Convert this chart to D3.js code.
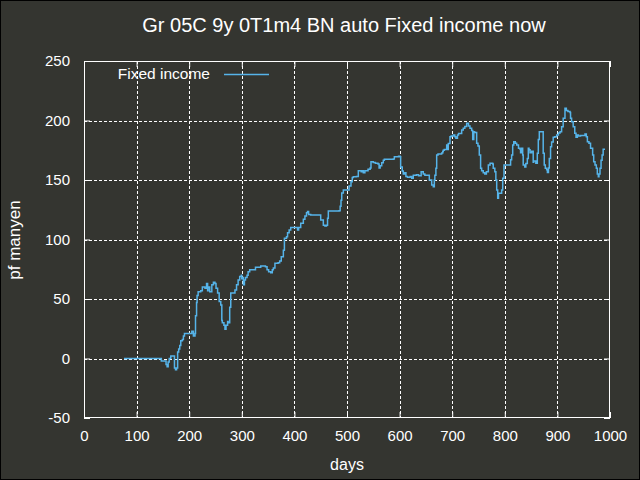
<!DOCTYPE html>
<html>
<head>
<meta charset="utf-8">
<script src="https://cdn.jsdelivr.net/npm/d3@7"></script>
<style>
html,body{margin:0;padding:0;background:#343530;}
svg{display:block;}
text{font-family:"Liberation Sans",Arial,sans-serif;fill:#ffffff;}
</style>
</head>
<body>
<svg id="chart" width="640" height="480"></svg>
<script>
const titleText = "Gr 05C 9y 0T1m4 BN auto Fixed income now";
const xLabel = "days";
const yLabel = "pf manyen";
const seriesName = "Fixed income";
const xTicks = [0,100,200,300,400,500,600,700,800,900,1000];
const yTicks = [-50,0,50,100,150,200,250];

const days = [76,146,147,155,156,158,160,162,165,170,172,174,176,178,180,182,184,187,189,191,203,205,208,211,212,214,215,217,222,225,230,233,235,236,239,243,246,249,251,254,257,260,262,263,266,268,270,273,274,277,279,284,287,290,293,296,299,300,302,303,305,307,310,312,315,325,326,334,336,345,348,351,355,358,360,363,369,372,375,379,381,385,387,390,393,404,406,408,412,417,420,423,425,427,431,448,450,455,458,461,463,464.5,485,487,488.6,490,493,501,504,507.6,510,512,518,521.5,527,529,531,534,540,544,545.6,550,554,559,561,563,566,569,571,588,590,598,601,602,605,607,610,612,615,620,623,626,632,636,641,645,648,655,656.5,661,664,666,667,669,670.5,673,680,682,683,685,689.5,691,692.5,695.8,698,702,705,707,710,712,718,721,724,727.5,731,733.8,737,739,741,742.6,746.5,749,751.5,754,756,759,762,765,768.7,772,777,778,781,783,784.6,786.5,788,791,794,796,798.5,808.6,811,813,815,817,820,822.6,826,829,830,832,834,835,838,840,842.8,844.7,846,848,851,854,855,859,861.8,863.7,865.6,872,873,875,877,879.6,881,883,884.6,887,889,892,895,898.6,902,905,908,911,914.4,917,920,924,925,927,930,933,935.4,938,940,944,948,952.5,955,957,960,963,967,969,971.5,974,975.9,977.8,979,981,983,985,987,990.5];
const values = [0,0,-2,-2,-5,-7,-3,0,2,2,-8,-9.5,-8,5.5,8,11,15,16,19,21,21,23,19,21,36,47,53,56,57,60,59,63,57,60,56,62,64,63,59,55,48,45,32,30,28,24.5,28,31,30,43,55,55,57.5,62,66,69,70,67,68,62,66,68,70,73,74.6,74.6,76.6,76.6,77.7,77,74.6,73,72,74.6,76,80,80.5,82,85.5,91,101,102.4,105.7,108,110,110,108,110,113.6,117,119.7,122.5,123.5,121,120.6,120.6,116.4,112,111.3,112,117.8,124,124.2,128,133,139,141.5,141.5,145,148.6,152,152.8,153,157.8,157,157.8,156,157.8,159,160,165.4,164.8,164,163.5,160,162,164.5,166.5,167.4,167.6,169.6,170,169.6,161,157.6,155,156,153,152.3,153,151.4,154,154.5,153.5,157,155,154,154,150,145.8,144.4,150,154,159.8,171,171.8,172.6,174,175,175.6,179.4,175.6,180.6,186.4,187,187.8,186.4,185,187.8,189,192,193.4,195,197.6,195.4,193.4,191.5,184,190.6,190,180.8,178.6,171,159.8,157.8,156,155,157,162.6,164,163.5,159.8,157,150,141.6,134.6,138.8,138.8,141.6,151.4,162.6,162.6,167,171,179.4,182.2,180.8,179.4,176.6,175.8,173,176.6,171,162.6,161,163.8,168,176.6,175.4,173,174.2,165,166,164,172.4,184,190.6,190.6,172.4,162.6,159.8,158.6,156.4,160,168,178,182,185.9,186.4,187.8,189.6,190.6,194.8,201.8,210.3,208.3,207.6,206.7,201.8,199,194.8,189.2,185.9,187.8,187,187.5,187.5,188.6,186.4,182.2,180.8,176.6,171,165.4,162.6,159.8,155,152.8,155,159.8,166.7,171,175.8,175.8];

const svg = d3.select("#chart");
const W = 640, H = 480;
const L = 84, R = 610, T = 61, B = 418;

svg.append("rect").attr("x",0).attr("y",0).attr("width",W).attr("height",H).attr("fill","#343530");
svg.append("rect").attr("x",0.5).attr("y",0.5).attr("width",W-1).attr("height",H-1)
  .attr("fill","none").attr("stroke","#000").attr("stroke-width",1);

const x = d3.scaleLinear().domain([0,1000]).range([L,R]);
const y = d3.scaleLinear().domain([-50,250]).range([B,T]);
const fmt = d => String(d);

// grid
const grid = svg.append("g").attr("stroke","#ffffff").attr("stroke-width",1).attr("stroke-dasharray","3,2");
grid.selectAll("line.gx").data(xTicks.filter(d=>d>0&&d<1000)).join("line")
  .attr("x1",d=>Math.round(x(d))+0.5).attr("x2",d=>Math.round(x(d))+0.5)
  .attr("y1",T).attr("y2",B);
grid.selectAll("line.gy").data(yTicks.filter(d=>d>-50&&d<250)).join("line")
  .attr("class","gy")
  .attr("y1",d=>Math.round(y(d))+0.5).attr("y2",d=>Math.round(y(d))+0.5)
  .attr("x1",L).attr("x2",R);

// axes
const fs = "15px";
const ax = svg.append("g").attr("transform",`translate(0,${B})`)
  .call(d3.axisBottom(x).tickValues(xTicks).tickFormat(fmt).tickSize(-6).tickPadding(12).tickSizeOuter(0));
const ay = svg.append("g").attr("transform",`translate(${L},0)`)
  .call(d3.axisLeft(y).tickValues(yTicks).tickFormat(fmt).tickSize(-6).tickPadding(14).tickSizeOuter(0));
const axT = svg.append("g").attr("transform",`translate(0,${T})`)
  .call(d3.axisTop(x).tickValues(xTicks).tickSize(-6).tickFormat("").tickSizeOuter(0));
const ayR = svg.append("g").attr("transform",`translate(${R},0)`)
  .call(d3.axisRight(y).tickValues(yTicks).tickSize(-6).tickFormat("").tickSizeOuter(0));
[ax,ay,axT,ayR].forEach(g=>{
  g.select(".domain").remove();
  g.selectAll("line").attr("stroke","#ffffff");
  g.selectAll("text").attr("fill","#ffffff").style("font-size",fs).style("font-family","Liberation Sans, Arial, sans-serif");
});

// frame
svg.append("rect").attr("x",L+0.5).attr("y",T+0.5).attr("width",R-L-1).attr("height",B-T-1)
  .attr("fill","none").attr("stroke","#ffffff").attr("stroke-width",1);

// data line
const pts = days.map((d,i)=>[d,values[i]]);
const line = d3.line().x(d=>x(d[0])).y(d=>y(d[1])).curve(d3.curveStepAfter);
svg.append("path").datum(pts).attr("d",line)
  .attr("fill","none").attr("stroke","#56b4e9").attr("stroke-width",1.5);

// legend
svg.append("text").attr("x",210).attr("y",79).attr("text-anchor","end")
  .style("font-size","15.5px").text(seriesName);
svg.append("line").attr("x1",224).attr("x2",269).attr("y1",74.5).attr("y2",74.5)
  .attr("stroke","#56b4e9").attr("stroke-width",1.5);

// title and labels
svg.append("text").attr("x",344).attr("y",32).attr("text-anchor","middle")
  .style("font-size","20px").text(titleText);
svg.append("text").attr("x",347).attr("y",470).attr("text-anchor","middle")
  .style("font-size","16px").text(xLabel);
svg.append("text").attr("transform","translate(20,240) rotate(-90)").attr("text-anchor","middle")
  .style("font-size","17px").text(yLabel);
</script>
</body>
</html>
